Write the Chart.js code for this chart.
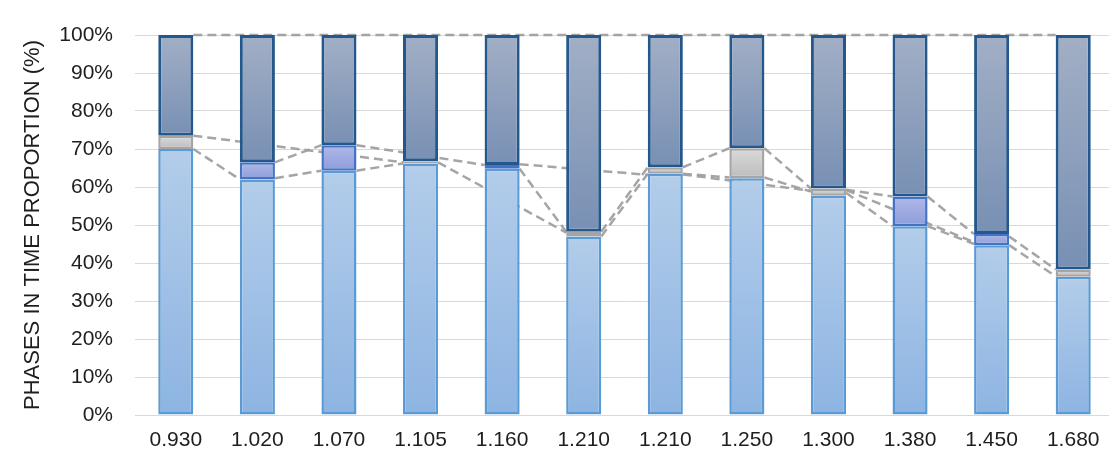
<!DOCTYPE html>
<html>
<head>
<meta charset="utf-8">
<script src="https://cdn.jsdelivr.net/npm/chart.js@4.4.1/dist/chart.umd.min.js"></script>
<style>
  html, body { margin: 0; padding: 0; background: #fff; overflow: hidden; }
  #wrap { width: 1116px; height: 458px; }
</style>
</head>
<body>
<div id="wrap"><canvas id="graficoFases" width="1116" height="458"></canvas></div>
<script>
// Categorias do eixo x
const categorias = ["0.930", "1.020", "1.070", "1.105", "1.160", "1.210", "1.210", "1.250", "1.300", "1.380", "1.450", "1.680"];

// Proporção de cada fase (%), de baixo para cima
const faseAzulClara = [70, 62, 64.3, 66.2, 64.8, 47, 63.5, 62.3, 57.7, 49.7, 44.7, 36.4];
const faseCinza     = [3.5, 0, 0, 0.6, 0, 1.2, 1.7, 7.9, 1.9, 0, 0, 1.9];
const faseRoxa      = [0, 4.5, 6.7, 0, 1.0, 0, 0, 0, 0, 7.8, 2.9, 0];
const faseEscura    = [26.5, 33.5, 29, 33.2, 34.2, 51.8, 34.8, 29.8, 40.4, 42.5, 52.4, 61.7];

// Ticks do eixo y
const ticksY = [0, 10, 20, 30, 40, 50, 60, 70, 80, 90, 100];

// Linhas tracejadas: [barra origem, valor, barra destino, valor]
const linhasSerie = [
    [0, 100, 11, 100],
    [0, 70, 1, 62],
    [0, 73.5, 3, 66.5],
    [1, 62.3, 2, 64.3],
    [1, 66.5, 2, 71],
    [2, 71, 4, 65.8],
    [2, 64.3, 3, 66.2],
    [3, 66.5, 5, 48],
    [4, 66, 6, 63.2],
    [4, 64.8, 5, 48.2],
    [5, 48.2, 6, 65.2],
    [5, 47, 6, 63.5],
    [6, 65.2, 7, 70.2],
    [6, 63.5, 7, 62.5],
    [6, 63.3, 8, 59.0],
    [7, 70.2, 8, 59.6],
    [7, 62.5, 8, 58.8],
    [8, 59.3, 9, 57.5],
    [8, 58.5, 9, 49.7],
    [8, 59.2, 10, 45.5],
    [9, 57.5, 10, 47.6],
    [9, 49.7, 10, 45],
    [10, 47, 11, 38.3],
    [10, 44.7, 11, 36.5]
];

const fonte = "'Liberation Sans', Arial, sans-serif";

// Gradiente vertical por segmento (como no Excel)
function gradiente(corTopo, corBase) {
    return ctx => {
        const chart = ctx.chart;
        const y = chart.scales.y;
        if (ctx.type !== "data" || !y) return corBase;
        let inicio = 0;
        for (let d = 0; d < ctx.datasetIndex; d++) {
            inicio += chart.data.datasets[d].data[ctx.dataIndex] || 0;
        }
        const fim = inicio + (ctx.raw || 0);
        const y0 = y.getPixelForValue(inicio);
        const y1 = y.getPixelForValue(fim);
        if (!isFinite(y0) || !isFinite(y1) || y0 === y1) return corBase;
        const g = chart.ctx.createLinearGradient(0, y1, 0, y0);
        g.addColorStop(0, corTopo);
        g.addColorStop(1, corBase);
        return g;
    };
}

// Plugin que desenha as linhas tracejadas atrás das barras
const pluginLinhas = {
    id: "linhasSerie",
    beforeDatasetsDraw(chart) {
        const barras = chart.getDatasetMeta(0).data;
        const y = chart.scales.y;
        const c = chart.ctx;
        c.save();
        c.strokeStyle = "rgba(160,160,160,0.95)";
        c.lineWidth = 2.5;
        c.setLineDash([9, 5]);
        linhasSerie.forEach(([de, v0, para, v1]) => {
            const a = barras[de], b = barras[para];
            if (!a || !b) return;
            c.beginPath();
            c.moveTo(a.x + a.width / 2, y.getPixelForValue(v0));
            c.lineTo(b.x - b.width / 2, y.getPixelForValue(v1));
            c.stroke();
        });
        c.restore();
    }
};

function dataset(rotulo, valores, corTopo, corBase, borda, largura) {
    return {
        label: rotulo,
        data: valores.map(v => v || null),
        backgroundColor: gradiente(corTopo, corBase),
        borderColor: borda,
        borderWidth: largura,
        borderSkipped: false,
        categoryPercentage: 1,
        barPercentage: 0.43
    };
}

new Chart(document.getElementById("graficoFases"), {
    type: "bar",
    data: {
        labels: categorias,
        datasets: [
            dataset("Fase 1", faseAzulClara, "#b3cdea", "#8db4e2", "#5b9bd5", 2.5),
            dataset("Fase 2", faseCinza, "#dadada", "#bcbcbc", "#a5a5a5", 2.5),
            dataset("Fase 3", faseRoxa, "#b0b8e6", "#8c9edb", "#4472c4", 2.5),
            dataset("Fase 4", faseEscura, "#a2afc5", "#7890b4", "#24588c", 3)
        ]
    },
    options: {
        responsive: false,
        animation: false,
        layout: { padding: { top: 35, right: 2, left: 0, bottom: 0 } },
        plugins: {
            legend: { display: false },
            tooltip: { enabled: false }
        },
        scales: {
            x: {
                stacked: true,
                grid: { display: false, drawTicks: false },
                border: { display: false },
                ticks: { color: "#1e1e1e", font: { family: fonte, size: 21 }, padding: 13, maxRotation: 0 },
                afterFit: s => { s.height = 43; }
            },
            y: {
                stacked: true,
                min: 0,
                max: 100,
                afterBuildTicks: s => { s.ticks = ticksY.map(v => ({ value: v })); },
                grid: { color: "#d9d9d9", lineWidth: 1, drawTicks: false },
                border: { display: false },
                ticks: {
                    color: "#1e1e1e",
                    font: { family: fonte, size: 21 },
                    padding: 22,
                    callback: v => v + "%"
                },
                title: {
                    display: true,
                    text: "PHASES IN TIME PROPORTION (%)",
                    color: "#1e1e1e",
                    font: { family: fonte, size: 22 },
                    padding: { top: 20, bottom: 0 }
                },
                afterFit: s => { s.width = 135; }
            }
        }
    },
    plugins: [pluginLinhas]
});
</script>
</body>
</html>
